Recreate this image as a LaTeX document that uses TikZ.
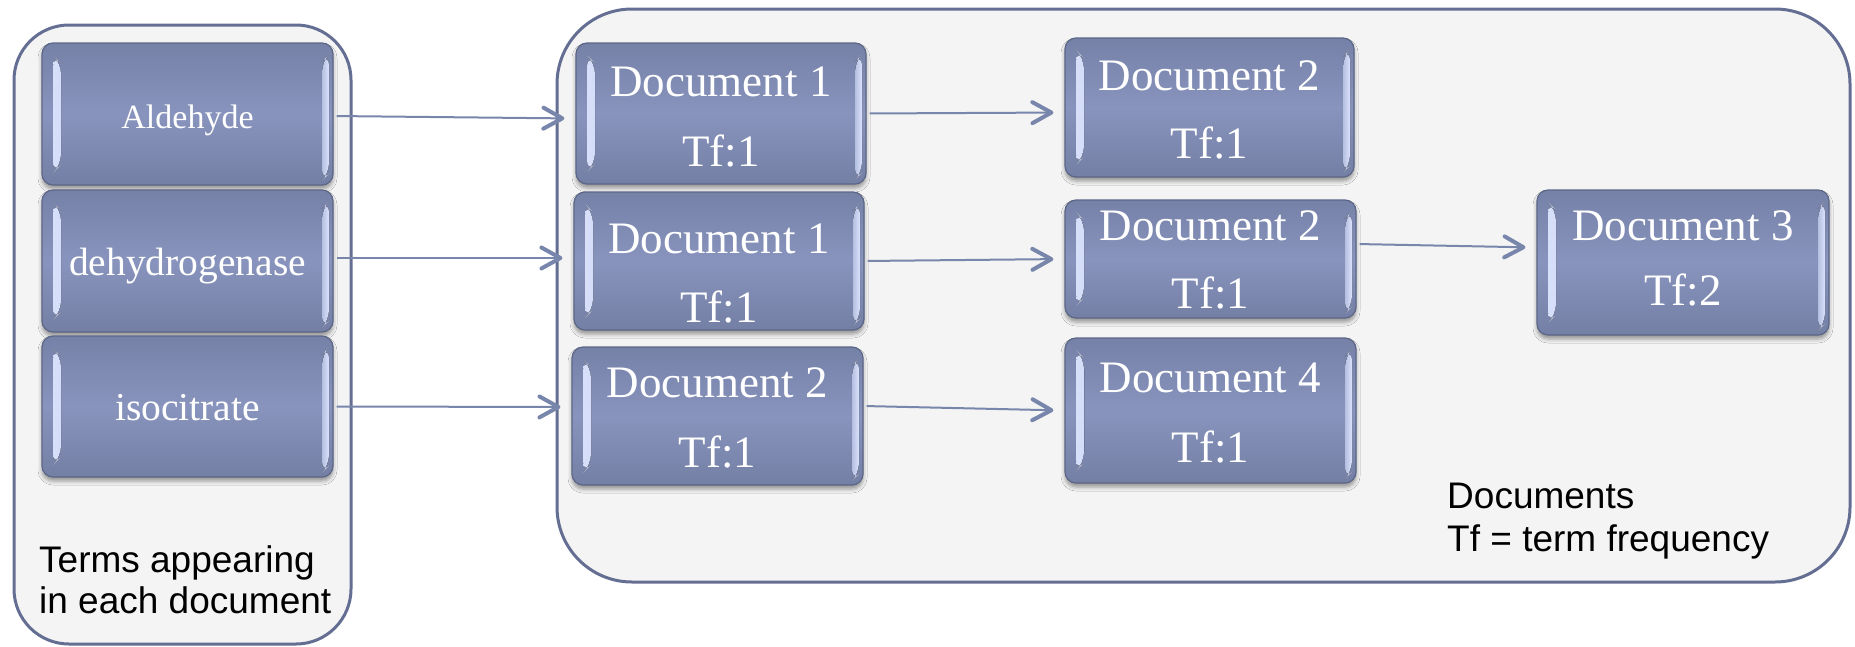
\documentclass[tikz,border=0pt]{standalone}
\usepackage{fontspec}
\newfontfamily\tilefont{Liberation Serif}
\newfontfamily\notefont{Liberation Sans}
\usetikzlibrary{arrows.meta,calc,shadows.blur}

\definecolor{panedge}{RGB}{100,110,146}
\definecolor{panfill}{RGB}{244,244,244}
\definecolor{tileedge}{RGB}{92,102,134}
\definecolor{tiletop}{RGB}{118,129,168}
\definecolor{tilemid}{RGB}{136,148,189}
\definecolor{tilebot}{RGB}{116,127,165}
\definecolor{bevlight}{RGB}{218,226,252}
\definecolor{linkcol}{RGB}{121,134,172}

\tikzset{
  panel/.style={draw=panedge, line width=3pt, fill=panfill, inner sep=0pt},
  tile/.style={draw=tileedge, line width=1.2pt, rounded corners=11pt, inner sep=0pt,
    top color=tiletop, bottom color=tilebot, middle color=tilemid,
    text=white, font=\tilefont\fontsize{39.5}{46}\selectfont,
    text height=28pt, text depth=0pt,
    blur shadow={shadow xshift=0pt, shadow yshift=-4pt, shadow blur radius=4pt, shadow opacity=40},
    path picture={
      % light bevel strips on the left and right edges
      \fill[left color=bevlight, right color=tilemid]
        ($(path picture bounding box.north west)+(11pt,-12pt)$) -- ++(8pt,-8pt)
        -- ($(path picture bounding box.south west)+(19pt,20pt)$) -- ++(-8pt,-8pt) -- cycle;
      \fill[left color=bevlight!55!tilemid, right color=bevlight]
        ($(path picture bounding box.north east)+(-11pt,-18pt)$) -- ++(7pt,7pt)
        -- ($(path picture bounding box.south east)+(-4pt,11pt)$) -- ++(-7pt,-7pt) -- cycle;
    }},
  doctext/.style={text=white, font=\tilefont\fontsize{45}{54}\selectfont, anchor=base, inner sep=0pt},
  note/.style={font=\notefont\fontsize{37}{43}\selectfont, anchor=base west, inner sep=0pt, text=black},
  link/.style={draw=linkcol, line width=2pt,
    -{Straight Barb[length=19pt,width=21pt,line width=4pt,round]},
    shorten <=3pt, shorten >=11pt}
}

\begin{document}
\begin{tikzpicture}[x=1pt,y=-1pt]
\useasboundingbox (0,0) rectangle (1855,646);
\fill[white] (0,0) rectangle (1855,646);

% containers
\node[panel, rounded corners=55pt, minimum width=337pt, minimum height=619pt] (terms) at (182.5,334.5) {};
\node[panel, rounded corners=75pt, minimum width=1293pt, minimum height=573pt] (docs) at (1203.5,295.5) {};

% term tiles
\node[tile, minimum width=291pt, minimum height=142pt, font=\tilefont\fontsize{34}{40}\selectfont] (ald) at (187.5,114) {Aldehyde};
\node[tile, minimum width=291pt, minimum height=142pt] (deh) at (187.5,261) {dehydrogenase};
\node[tile, minimum width=291pt, minimum height=141pt] (iso) at (187.5,406.5) {isocitrate};

% document tiles
\node[tile, minimum width=290pt, minimum height=141pt] (d1a) at (721,113.5) {};
\node[tile, minimum width=290pt, minimum height=138pt] (d1b) at (719,261) {};
\node[tile, minimum width=291pt, minimum height=138pt] (d2c) at (717.5,416) {};
\node[tile, minimum width=289pt, minimum height=139pt] (d2a) at (1209.5,107.5) {};
\node[tile, minimum width=291pt, minimum height=118pt] (d2b) at (1210.5,259) {};
\node[tile, minimum width=291pt, minimum height=145pt] (d4) at (1210.5,410.5) {};
\node[tile, minimum width=292pt, minimum height=145pt] (d3) at (1683,262.5) {};

% tile labels
\node[doctext] (d1a-doc) at (721,96) {Document 1};
\node[doctext] (d1a-tf) at (721,166) {Tf:1};
\node[doctext] (d1b-doc) at (719,253) {Document 1};
\node[doctext] (d1b-tf) at (719,322) {Tf:1};
\node[doctext] (d2c-doc) at (717.5,397) {Document 2};
\node[doctext] (d2c-tf) at (717.5,467) {Tf:1};
\node[doctext] (d2a-doc) at (1209.5,90) {Document 2};
\node[doctext] (d2a-tf) at (1209.5,158) {Tf:1};
\node[doctext] (d2b-doc) at (1210.5,240) {Document 2};
\node[doctext] (d2b-tf) at (1210.5,308) {Tf:1};
\node[doctext] (d4-doc) at (1210.5,392) {Document 4};
\node[doctext] (d4-tf) at (1210.5,462) {Tf:1};
\node[doctext] (d3-doc) at (1683,240) {Document 3};
\node[doctext] (d3-tf) at (1683,305) {Tf:2};

% captions
\node[note] (cap1a) at (39,572) {Terms appearing};
\node[note] (cap1b) at (39,613) {in each document};
\node[note] (cap2a) at (1447,508) {Documents};
\node[note] (cap2b) at (1447,551) {Tf = term frequency};

% postings links
\draw[link] ([yshift=-2pt]ald.east) -- ([yshift=-5pt]d1a.west);
\draw[link] ([yshift=3pt]deh.east) -- ([yshift=3pt]d1b.west);
\draw[link] (iso.east) -- ([yshift=9pt]d2c.west);
\draw[link] (d1a.east) -- ([yshift=-5pt]d2a.west);
\draw[link] (d1b.east) -- (d2b.west);
\draw[link] ([yshift=10pt]d2c.east) -- (d4.west);
\draw[link] ([yshift=15pt]d2b.east) -- ([yshift=15pt]d3.west);
\end{tikzpicture}
\end{document}
